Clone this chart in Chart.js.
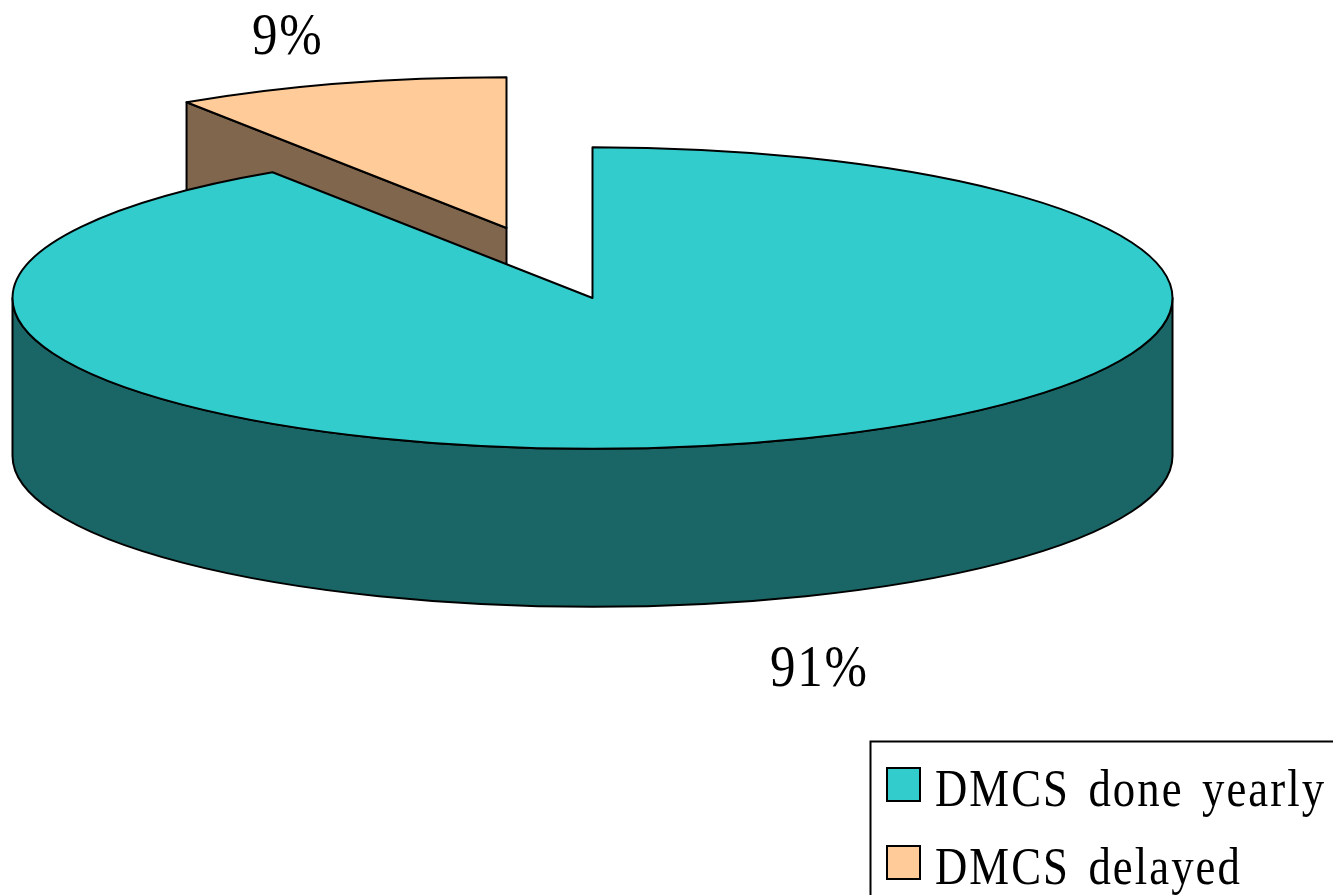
<!DOCTYPE html>
<html>
<head>
<meta charset="utf-8">
<title>DMCS</title>
<style>
    html, body { margin: 0; padding: 0; background: #fff; overflow: hidden; }
    canvas { display: block; }
</style>
<script src="https://cdn.jsdelivr.net/npm/chart.js@4"></script>
</head>
<body>
<canvas id="pieChart" width="1333" height="895"></canvas>
<script>
const categories = ['DMCS done yearly', 'DMCS delayed'];
// slice sizes, printed rounded in the labels
const shares = [90.7, 9.3];
const shareLabels = ['91%', '9%'];

const topColors = ['#33CCCC', '#FFCC99'];
const sideColors = ['#1A6666', '#80664D'];

// fake 3D: the arcs keep their geometry, only the drawing is squashed and extruded
const TILT = 0.26;
const DEPTH = 158;
const explode = [[0, 0], [-86, -70]];
const labelPos = [[770, 686], [252, 54]];
const legendRows = [[887, 768, 806], [887, 846, 884]];

// narrow serif, the original font is condensed compared to Times
function drawText(ctx, text, x, y, size, squeeze, spacing, wordSpacing) {
    ctx.save();
    ctx.translate(x, y);
    ctx.scale(squeeze, 1);
    ctx.font = size + 'px "Liberation Serif"';
    ctx.letterSpacing = spacing + 'px';
    ctx.wordSpacing = wordSpacing + 'px';
    ctx.fillStyle = '#000';
    ctx.textAlign = 'left';
    ctx.textBaseline = 'alphabetic';
    ctx.fillText(text, 0, 0);
    ctx.restore();
}

const pie3d = {
    id: 'pie3d',
    beforeDatasetDraw(chart, args) {
        const ctx = chart.ctx;
        const arcs = args.meta.data;

        ctx.save();
        ctx.lineWidth = 2;
        ctx.lineJoin = 'round';
        ctx.strokeStyle = '#000';

        for (let i = arcs.length - 1; i >= 0; i--) {
            const arc = arcs[i];
            const cx = arc.x + explode[i][0];
            const cy = arc.y + explode[i][1];
            const rx = arc.outerRadius;
            const ry = rx * TILT;
            const start = arc.startAngle;
            const end = arc.endAngle;

            // cut face, only if it looks towards us
            if (Math.sin(start - Math.PI / 2) > 0.01) {
                const ex = cx + Math.cos(start) * rx;
                const ey = cy + Math.sin(start) * ry;
                ctx.beginPath();
                ctx.moveTo(cx, cy);
                ctx.lineTo(ex, ey);
                ctx.lineTo(ex, ey + DEPTH);
                ctx.lineTo(cx, cy + DEPTH);
                ctx.closePath();
                ctx.fillStyle = sideColors[i];
                ctx.fill();
                ctx.stroke();
            }

            // outer wall, front half of the rim
            const wallFrom = Math.max(start, 0);
            const wallTo = Math.min(end, Math.PI);
            if (wallTo > wallFrom) {
                ctx.beginPath();
                ctx.ellipse(cx, cy, rx, ry, 0, wallFrom, wallTo);
                ctx.ellipse(cx, cy + DEPTH, rx, ry, 0, wallTo, wallFrom, true);
                ctx.closePath();
                ctx.fillStyle = sideColors[i];
                ctx.fill();
                ctx.stroke();
            }

            // top face
            ctx.beginPath();
            ctx.moveTo(cx, cy);
            ctx.ellipse(cx, cy, rx, ry, 0, start, end);
            ctx.closePath();
            ctx.fillStyle = topColors[i];
            ctx.fill();
            ctx.stroke();
        }
        ctx.restore();
        return false;
    },
    afterDraw(chart) {
        const ctx = chart.ctx;

        shareLabels.forEach((label, i) => {
            drawText(ctx, label, labelPos[i][0], labelPos[i][1], 60, 0.85, 2, 0);
        });

        // legend frame runs off the right and bottom of the picture
        ctx.save();
        ctx.lineWidth = 2;
        ctx.strokeStyle = '#000';
        ctx.strokeRect(870.5, 741.5, 600, 400);
        categories.forEach((name, i) => {
            const [x, y, base] = legendRows[i];
            ctx.fillStyle = topColors[i];
            ctx.fillRect(x, y, 33, 33);
            ctx.strokeRect(x, y, 33, 33);
            drawText(ctx, name, x + 48, base, 52, 0.86, 2.4, 6);
        });
        ctx.restore();
    }
};

new Chart(document.getElementById('pieChart'), {
    type: 'pie',
    data: {
        labels: categories,
        datasets: [{
            data: shares,
            backgroundColor: topColors,
            borderColor: '#000',
            borderWidth: 2,
            radius: 580
        }]
    },
    options: {
        responsive: false,
        animation: false,
        layout: { padding: { left: 0, right: 148, top: 0, bottom: 299 } },
        plugins: {
            tooltip: { enabled: false },
            legend: { display: false }
        }
    },
    plugins: [pie3d]
});
</script>
</body>
</html>
